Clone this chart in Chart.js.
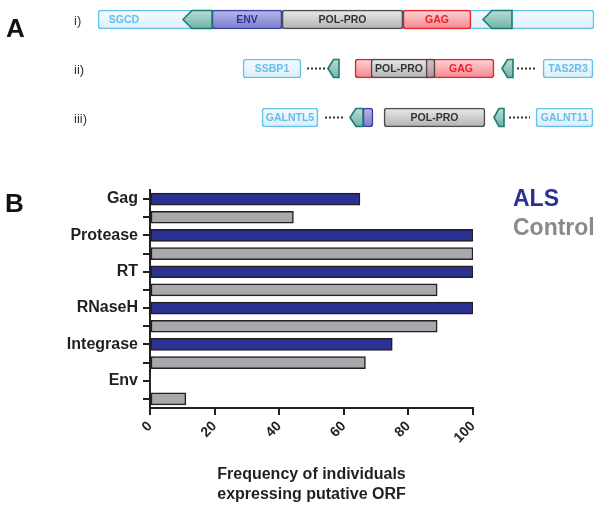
<!DOCTYPE html>
<html>
<head>
<meta charset="utf-8">
<script src="https://cdn.jsdelivr.net/npm/chart.js@4.4.1/dist/chart.umd.min.js"></script>
<style>
  html, body { margin: 0; padding: 0; background: #fff; }
  #wrap { position: relative; width: 601px; height: 509px; overflow: hidden; }
  #mapBox { position: absolute; left: 0; top: -5px; width: 601px; height: 147px; }
  #barBox { position: absolute; left: 0; top: 141px; width: 601px; height: 368px; }
</style>
</head>
<body>
<div id="wrap">
  <div id="mapBox"><canvas id="orfMap"></canvas></div>
  <div id="barBox"><canvas id="orfFreq"></canvas></div>
</div>
<script>
// ---- panel A: schematic of the HERV-K loci ----
const mapRows = ['i)', 'ii)', 'iii)'];
// [row, start, end, kind, label, labelCenter]
const mapBoxes = [
  [0, 98, 594, 'host', 'SGCD', 124],
  [0, 212, 282, 'env', 'ENV', null],
  [0, 282, 403, 'pol', 'POL-PRO', null],
  [0, 403, 471, 'gag', 'GAG', null],
  [1, 243, 301, 'host', 'SSBP1', null],
  [1, 355, 494, 'gag', 'GAG', 461],
  [1, 371, 435, 'pol', 'POL-PRO', 399],
  [1, 426, 435, 'mix', '', null],
  [1, 543, 593, 'host', 'TAS2R3', null],
  [2, 262, 318, 'host', 'GALNTL5', null],
  [2, 363, 373, 'env', '', null],
  [2, 384, 485, 'pol', 'POL-PRO', null],
  [2, 536, 593, 'host', 'GALNT11', null]
];
// LTR arrowheads [row, start, end]
const mapLtrs = [[0, 183, 212], [0, 483, 512], [1, 328, 339], [1, 502, 513], [2, 350, 363], [2, 494, 504]];
// dotted gaps [row, start, end]
const mapGaps = [[1, 307, 325], [1, 517, 537], [2, 325, 343], [2, 509, 530]];

const kinds = {
  host: { top: '#f5fbfe', fill: '#dceef8', line: '#62c4ee', text: '#62bfea', order: 3 },
  gag:  { top: '#fcd3d5', fill: '#f3898f', line: '#ec2028', text: '#ec2028', order: 2 },
  env:  { top: '#b6b8e8', fill: '#7c7fcc', line: '#3b3fa6', text: '#2e3192', order: 1 },
  pol:  { top: '#e8e8e8', fill: '#b4b4b4', line: '#4d4d4d', text: '#333333', order: 1 },
  mix:  { top: '#d9c3c5', fill: '#b89396', line: '#4d4d4d', text: '#333333', order: 0 },
  ltr:  { top: '#b8ddd7', fill: '#6fb3a8', line: '#1d7b70' }
};

const FONT = '"Liberation Sans", Arial, sans-serif';

function shade(chart, yc, k) {
  if (!isFinite(yc)) return k.fill;
  const g = chart.ctx.createLinearGradient(0, yc - 9, 0, yc + 9);
  g.addColorStop(0, k.top);
  g.addColorStop(1, k.fill);
  return g;
}

function rowPixel(chart, row) {
  const y = chart.scales && chart.scales.y;
  return y ? y.getPixelForValue(row) : NaN;
}

const mapDecor = {
  id: 'mapDecor',
  afterDatasetsDraw(chart) {
    const ctx = chart.ctx;
    const x = chart.scales.x, y = chart.scales.y;
    ctx.save();

    // dotted links
    ctx.strokeStyle = '#333';
    ctx.lineWidth = 2;
    ctx.setLineDash([2, 2]);
    mapGaps.forEach(([row, a, b]) => {
      const yc = y.getPixelForValue(row);
      ctx.beginPath();
      ctx.moveTo(x.getPixelForValue(a), yc);
      ctx.lineTo(x.getPixelForValue(b), yc);
      ctx.stroke();
    });
    ctx.setLineDash([]);

    // LTRs, pointing left
    mapLtrs.forEach(([row, a, b]) => {
      const yc = y.getPixelForValue(row);
      const x1 = x.getPixelForValue(a), x2 = x.getPixelForValue(b);
      const h = 18;
      const tip = row === 0 ? 9 : Math.min(6, (x2 - x1) * 0.5);
      ctx.beginPath();
      ctx.moveTo(x1, yc);
      ctx.lineTo(x1 + tip, yc - h / 2);
      ctx.lineTo(x2, yc - h / 2);
      ctx.lineTo(x2, yc + h / 2);
      ctx.lineTo(x1 + tip, yc + h / 2);
      ctx.closePath();
      ctx.fillStyle = shade(chart, yc, kinds.ltr);
      ctx.fill();
      ctx.strokeStyle = kinds.ltr.line;
      ctx.lineWidth = 1.6;
      ctx.stroke();
    });

    // box labels
    ctx.textAlign = 'center';
    ctx.textBaseline = 'middle';
    ctx.font = 'bold 10.5px ' + FONT;
    mapBoxes.forEach(b => {
      if (!b[4]) return;
      const cx = b[5] != null ? b[5] : (b[1] + b[2]) / 2;
      ctx.fillStyle = kinds[b[3]].text;
      ctx.fillText(b[4], x.getPixelForValue(cx), y.getPixelForValue(b[0]) + 0.5);
    });

    // row numbers and panel letter
    ctx.font = '13px ' + FONT;
    ctx.fillStyle = '#333';
    ctx.textAlign = 'left';
    mapRows.forEach((r, i) => ctx.fillText(r, 74, y.getPixelForValue(i) + 2));
    ctx.font = 'bold 26px ' + FONT;
    ctx.fillStyle = '#111';
    ctx.textBaseline = 'alphabetic';
    ctx.fillText('A', 6, 42);
    ctx.restore();
  }
};

new Chart(document.getElementById('orfMap'), {
  type: 'bar',
  data: {
    labels: mapRows,
    datasets: mapBoxes.map(b => ({
      data: mapRows.map((r, i) => i === b[0] ? [b[1], b[2]] : null),
      backgroundColor: c => shade(c.chart, rowPixel(c.chart, b[0]), kinds[b[3]]),
      borderColor: kinds[b[3]].line,
      borderWidth: 1.6,
      borderSkipped: false,
      borderRadius: 3,
      barThickness: 19,
      grouped: false,
      order: kinds[b[3]].order
    }))
  },
  options: {
    indexAxis: 'y',
    responsive: true,
    maintainAspectRatio: false,
    animation: false,
    layout: { padding: 0 },
    scales: {
      x: { type: 'linear', min: 0, max: 601, display: false },
      y: { display: false }
    },
    plugins: { legend: { display: false }, tooltip: { enabled: false } }
  },
  plugins: [mapDecor]
});

// ---- panel B: frequency of putative ORF expression ----
const categories = ['Gag', 'Protease', 'RT', 'RNaseH', 'Integrase', 'Env'];
const alsValues = [65, 100, 100, 100, 75, 0];
const controlValues = [44.4, 100, 88.9, 88.9, 66.7, 11.1];
const freqTicks = [0, 20, 40, 60, 80, 100];

// one row per bar: ALS row carries the name, control row is blank
const rowLabels = categories.flatMap(c => [c, '']);
const alsRows = alsValues.flatMap(v => [v, null]);
const controlRows = controlValues.flatMap(v => [null, v]);

const INK = '#231f20';
const ALS_BLUE = '#2b3192';
const CTRL_GREY = '#a7a9ac';

const freqDecor = {
  id: 'freqDecor',
  afterDraw(chart) {
    const ctx = chart.ctx;
    ctx.save();
    ctx.textAlign = 'left';
    ctx.textBaseline = 'alphabetic';
    ctx.font = 'bold 26px ' + FONT;
    ctx.fillStyle = '#111';
    ctx.fillText('B', 5, 71);
    ctx.font = 'bold 23px ' + FONT;
    ctx.fillStyle = ALS_BLUE;
    ctx.fillText('ALS', 513, 65);
    ctx.fillStyle = '#8a8a8c';
    ctx.fillText('Control', 513, 94);
    ctx.restore();
  }
};

const barStyle = {
  borderColor: INK,
  borderWidth: ctx => (ctx.raw ? 1.5 : 0),
  borderSkipped: false,
  barThickness: 12,
  grouped: false
};

new Chart(document.getElementById('orfFreq'), {
  type: 'bar',
  data: {
    labels: rowLabels,
    datasets: [
      Object.assign({ label: 'ALS', data: alsRows, backgroundColor: ALS_BLUE }, barStyle),
      Object.assign({ label: 'Control', data: controlRows, backgroundColor: CTRL_GREY }, barStyle)
    ]
  },
  options: {
    indexAxis: 'y',
    responsive: true,
    maintainAspectRatio: false,
    animation: false,
    layout: { padding: { top: 49, right: 128, left: 0, bottom: 0 } },
    scales: {
      y: {
        afterFit: s => { s.width = 150; },
        grid: { offset: false, drawOnChartArea: false, drawTicks: true, tickLength: 7, color: INK, lineWidth: 2 },
        border: { color: INK, width: 2 },
        ticks: { autoSkip: false, padding: 5, color: INK, font: { family: FONT, size: 16, weight: 'bold', lineHeight: 1 } }
      },
      x: {
        min: 0,
        max: 100,
        afterFit: s => { s.height = 101; },
        afterBuildTicks: s => { s.ticks = freqTicks.map(v => ({ value: v })); },
        grid: { drawOnChartArea: false, drawTicks: true, tickLength: 7, color: INK, lineWidth: 2 },
        border: { color: INK, width: 2 },
        ticks: { minRotation: 45, maxRotation: 45, padding: 3, color: INK, font: { family: FONT, size: 14, weight: 'bold' } },
        title: {
          display: true,
          text: ['Frequency of individuals', 'expressing putative ORF'],
          color: INK,
          font: { family: FONT, size: 16, weight: 'bold', lineHeight: 1.25 },
          padding: { top: 0, bottom: 4 }
        }
      }
    },
    plugins: { legend: { display: false }, tooltip: { enabled: false } }
  },
  plugins: [freqDecor]
});
</script>
</body>
</html>
